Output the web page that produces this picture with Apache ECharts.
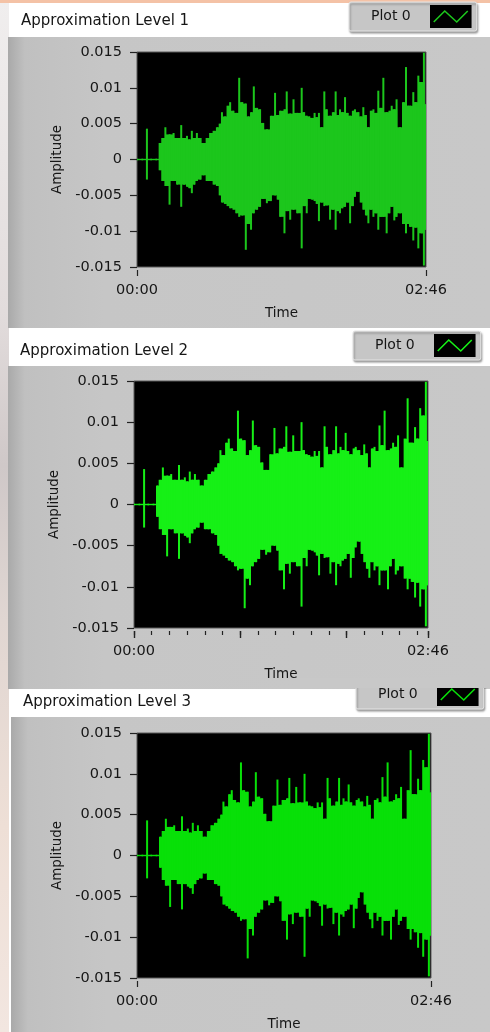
<!DOCTYPE html>
<html>
<head>
<meta charset="utf-8">
<script src="https://cdn.jsdelivr.net/npm/echarts@6/dist/echarts.min.js"></script>
<style>
html,body{margin:0;padding:0;background:#ffffff;}
#c{width:490px;height:1032px;}
</style>
</head>
<body>
<div id="c"></div>
<script>
// ---------- data ----------
const chartTitles = ['Approximation Level 1', 'Approximation Level 2', 'Approximation Level 3'];
const plotName = 'Plot 0';
const axisNameX = 'Time';
const axisNameY = 'Amplitude';

// sample times (s) and envelope peaks (same signal in the three graphs)
const timeSec = [
  0, 3, 5.7, 8, 11, 13, 14.5, 16.3, 18.7, 21,
  23, 25.4, 27, 28.7, 30, 31.5, 33, 34.4, 36.5, 38.2,
  40, 42, 44, 45.9, 47.5, 48.8, 50.5, 52, 53.5, 55.4,
  57, 58.7, 60.5, 62.5, 64, 65.5, 67.1, 69, 70.7, 72.5,
  74.6, 76.9, 79.3, 80.8, 82.2, 84.7, 86, 88, 89.9, 92,
  94.6, 96, 97.5, 99, 100.4, 102, 103.2, 104.5, 106.1, 107.6,
  109, 110.9, 112.5, 114.1, 115.5, 116.6, 118, 119.5, 121, 122.4,
  124, 125.2, 127.2, 128.5, 130, 131.5, 132.9, 134.3, 135.8, 137.2,
  138.6, 140, 141.5, 143.4, 145, 146.3, 147.8, 149.1, 151, 152.8,
  154.5, 155.7, 156.8, 158.7, 160, 161.6, 163.5, 164.8, 166
];
const envTop = [
  0, 0, 0.0043, 0, 0, 0.0023, 0.0030, 0.0045, 0.0035, 0.0037,
  0.0030, 0.0048, 0.0030, 0.0033, 0.0028, 0.0040, 0.0030, 0.0037, 0.0030, 0.0023,
  0.0030, 0.0037, 0.0040, 0.0045, 0.0050, 0.0066, 0.0060, 0.0075, 0.0080, 0.0068,
  0.0065, 0.0114, 0.0080, 0.0078, 0.0060, 0.0066, 0.0102, 0.0072, 0.0070, 0.0051,
  0.0042, 0.0061, 0.0093, 0.0062, 0.0068, 0.0070, 0.0095, 0.0064, 0.0084, 0.0065,
  0.0100, 0.0066, 0.0061, 0.0060, 0.0058, 0.0065, 0.0059, 0.0065, 0.0045, 0.0095,
  0.0070, 0.0061, 0.0066, 0.0095, 0.0062, 0.0070, 0.0066, 0.0087, 0.0065, 0.0061,
  0.0068, 0.0070, 0.0066, 0.0060, 0.0073, 0.0062, 0.0045, 0.0068, 0.0070, 0.0065,
  0.0096, 0.0072, 0.0114, 0.0066, 0.0068, 0.0075, 0.0070, 0.0084, 0.0045, 0.0080,
  0.0129, 0.0075, 0.0075, 0.0094, 0.0080, 0.0117, 0.0108, 0.0149, 0.0077
];
const envBottom = [
  0, 0, -0.0028, 0, 0, -0.0015, -0.0030, -0.0037, -0.0063, -0.0030,
  -0.0035, -0.0066, -0.0035, -0.0038, -0.0040, -0.0047, -0.0035, -0.0030, -0.0028, -0.0022,
  -0.0030, -0.0030, -0.0035, -0.0037, -0.0050, -0.0060, -0.0062, -0.0065, -0.0068, -0.0070,
  -0.0075, -0.0080, -0.0078, -0.0126, -0.0090, -0.0098, -0.0075, -0.0070, -0.0066, -0.0055,
  -0.0061, -0.0058, -0.0050, -0.0056, -0.0080, -0.0103, -0.0072, -0.0084, -0.0070, -0.0075,
  -0.0124, -0.0065, -0.0075, -0.0055, -0.0056, -0.0058, -0.0062, -0.0086, -0.0060, -0.0065,
  -0.0064, -0.0084, -0.0070, -0.0098, -0.0072, -0.0075, -0.0068, -0.0066, -0.0060, -0.0089,
  -0.0065, -0.0052, -0.0045, -0.0060, -0.0070, -0.0078, -0.0089, -0.0070, -0.0080, -0.0075,
  -0.0098, -0.0080, -0.0080, -0.0103, -0.0075, -0.0066, -0.0085, -0.0080, -0.0075, -0.0090,
  -0.0103, -0.0090, -0.0094, -0.0113, -0.0095, -0.0124, -0.0103, -0.0148, -0.0098
];

// axis scales
const yMin = -0.015, yMax = 0.015, yStep = 0.005;
const xMin = 0, xMax = 166;
const xLabelValues = [0, 166];
const xTickPlain = [0, 166];
const xTickMinor = [0, 10, 20, 30, 40, 50, 60, 70, 80, 90, 100, 110, 120, 130, 140, 150, 160, 166];
const xTickMajor = [0, 60, 120, 166];

// ---------- styling / layout ----------
const lineColors = ['#1cc61c', '#16f016', '#08e008'];
const FONT = 'DejaVu Sans';
const TXT = '#161616';
const layouts = [
  { grid: { left: 137, top: 52, width: 289, height: 215 }, title: { left: 21, top: 14 }, legend: { left: 349, top: 2 }, minor: false },
  { grid: { left: 134, top: 381, width: 294, height: 247 }, title: { left: 20, top: 344 }, legend: { left: 353, top: 331 }, minor: true },
  { grid: { left: 137, top: 733, width: 294, height: 247 }, title: { left: 23, top: 695 }, legend: { left: 356, top: 680 }, minor: false }
];

function fmtTime(v) {
  const m = Math.floor(v / 60), s = Math.round(v - m * 60);
  return String(m).padStart(2, '0') + ':' + String(s).padStart(2, '0');
}
function legendIcon(col) {
  const svg = "<svg xmlns='http://www.w3.org/2000/svg' width='42' height='23'>" +
    "<rect width='42' height='23' fill='#000'/>" +
    "<polyline points='4,17 15,6 27,17 38,6' fill='none' stroke='" + col + "' stroke-width='1.6'/></svg>";
  return 'image://data:image/svg+xml;charset=utf-8,' + encodeURIComponent(svg);
}
function makeRender(data) {
  return function (params, api) {
    const i = params.dataIndex;
    const cur = data[i];
    const last = i === data.length - 1;
    const nxt = last ? cur : data[i + 1];
    const x0 = api.coord([cur[0], 0])[0];
    const x1 = last ? x0 : api.coord([nxt[0], 0])[0];
    const bt = Math.min(cur[1], nxt[1]);
    const bb = Math.max(cur[2], nxt[2]);
    let yT = api.coord([cur[0], bt])[1];
    let yB = api.coord([cur[0], bb])[1];
    if (yB - yT < 1.4) { const m = (yT + yB) / 2; yT = m - 0.7; yB = m + 0.7; }
    let sT = api.coord([cur[0], cur[1]])[1];
    let sB = api.coord([cur[0], cur[2]])[1];
    if (sB - sT < 1.4) { const m = (sT + sB) / 2; sT = m - 0.7; sB = m + 0.7; }
    const color = api.visual('color');
    return {
      type: 'group',
      children: [
        { type: 'rect', shape: { x: x0, y: yT, width: Math.max(x1 - x0 + 0.6, 0), height: yB - yT }, style: { fill: color } },
        { type: 'rect', shape: { x: x0 - 1, y: sT, width: 2, height: sB - sT }, style: { fill: color } }
      ]
    };
  };
}

const samples = timeSec.map((t, i) => [t, envTop[i], envBottom[i]]);

const option = {
  animation: false,
  backgroundColor: '#ffffff',
  title: [], legend: [], grid: [], xAxis: [], yAxis: [], series: [],
  graphic: { elements: [] }
};

// page decoration (background / panels), drawn under everything
const panelFill = {
  type: 'linear', x: 0, y: 0, x2: 1, y2: 0,
  colorStops: [{ offset: 0, color: '#a9a9a9' }, { offset: 0.035, color: '#c0c0c0' }, { offset: 0.2, color: '#c6c6c6' }, { offset: 1, color: '#c8c8c8' }]
};
option.graphic.elements.push(
  { type: 'rect', shape: { x: 0, y: 0, width: 490, height: 3 }, style: { fill: '#f4c2a6' }, z: -10 },
  { type: 'rect', shape: { x: 0, y: 3, width: 9, height: 1029 },
    style: { fill: { type: 'linear', x: 0, y: 0, x2: 0, y2: 1, colorStops: [
      { offset: 0, color: '#f0eeee' }, { offset: 0.3, color: '#e2dcdc' }, { offset: 0.45, color: '#cfc8c8' },
      { offset: 0.6, color: '#e0d6d2' }, { offset: 0.8, color: '#eedfd6' }, { offset: 1, color: '#f2e6e0' }] } }, z: -10 },
  { type: 'rect', shape: { x: 8, y: 37, width: 482, height: 291 }, style: { fill: panelFill }, z: -10 },
  { type: 'rect', shape: { x: 8, y: 366, width: 482, height: 323 }, style: { fill: panelFill }, z: -10 },
  { type: 'rect', shape: { x: 11, y: 717, width: 479, height: 315 }, style: { fill: panelFill }, z: -10 },
  // bottom of panel 2 overlapping the legend of graph 3
  { type: 'rect', shape: { x: 300, y: 678, width: 190, height: 10 }, style: { fill: '#c8c8c8' }, z: 20 }
);

layouts.forEach((L, k) => {
  option.title.push({
    text: chartTitles[k], left: L.title.left, top: L.title.top, padding: 0,
    textStyle: { fontFamily: FONT, fontSize: 15, fontWeight: 'normal', color: TXT }
  });
  option.legend.push({
    left: L.legend.left, top: L.legend.top, orient: 'horizontal', align: 'right',
    selectedMode: false, itemWidth: 42, itemHeight: 23,
    padding: [3, 5, 3, 22], backgroundColor: '#c6c6c6', borderColor: '#e6e6e6', borderWidth: 1, borderRadius: 2,
    shadowColor: 'rgba(0,0,0,0.35)', shadowBlur: 2, shadowOffsetX: 1, shadowOffsetY: 2,
    textStyle: { fontFamily: FONT, fontSize: 14, color: TXT, padding: [0, 14, 0, 0] },
    data: [{ name: plotName, icon: legendIcon(lineColors[k]) }]
  });
  option.grid.push(Object.assign({
    show: true, backgroundColor: '#000000', borderColor: '#5a5a5a', borderWidth: 1, containLabel: false
  }, L.grid));

  const xBase = option.xAxis.length;
  // labels + axis name
  option.xAxis.push({
    type: 'value', gridIndex: k, min: xMin, max: xMax, position: 'bottom', offset: 3,
    axisLine: { show: false }, axisTick: { show: false },
    axisLabel: { customValues: xLabelValues, formatter: fmtTime, margin: 13, fontFamily: FONT, fontSize: 14.5, color: TXT },
    splitLine: { show: false },
    name: axisNameX, nameLocation: 'middle', nameGap: 36,
    nameTextStyle: { fontFamily: FONT, fontSize: 13.5, color: TXT }
  });
  // tick marks
  option.xAxis.push({
    type: 'value', gridIndex: k, min: xMin, max: xMax, position: 'bottom', offset: 3,
    axisLine: { show: false },
    axisTick: { show: true, length: L.minor ? 4 : 6, customValues: L.minor ? xTickMinor : xTickPlain, lineStyle: { color: '#222', width: 1.2 } },
    axisLabel: { show: false }, splitLine: { show: false }
  });
  if (L.minor) {
    option.xAxis.push({
      type: 'value', gridIndex: k, min: xMin, max: xMax, position: 'bottom', offset: 3,
      axisLine: { show: false },
      axisTick: { show: true, length: 7, customValues: xTickMajor, lineStyle: { color: '#222', width: 1.4 } },
      axisLabel: { show: false }, splitLine: { show: false }
    });
  }
  option.yAxis.push({
    type: 'value', gridIndex: k, min: yMin, max: yMax, interval: yStep, offset: 3,
    axisLine: { show: false },
    axisTick: { show: true, length: 7, lineStyle: { color: '#222', width: 1.2 } },
    axisLabel: { margin: 12, fontFamily: FONT, fontSize: 14.5, color: TXT },
    splitLine: { show: false },
    name: axisNameY, nameLocation: 'middle', nameGap: 57, nameRotate: 90,
    nameTextStyle: { fontFamily: FONT, fontSize: 13.5, color: TXT }
  });
  option.series.push({
    name: plotName, type: 'custom', xAxisIndex: xBase, yAxisIndex: k,
    color: lineColors[k], clip: true,
    renderItem: makeRender(samples),
    encode: { x: 0, y: [1, 2] },
    data: samples
  });
});

const chart = echarts.init(document.getElementById('c'), null, { renderer: 'canvas' });
chart.setOption(option);
</script>
</body>
</html>
